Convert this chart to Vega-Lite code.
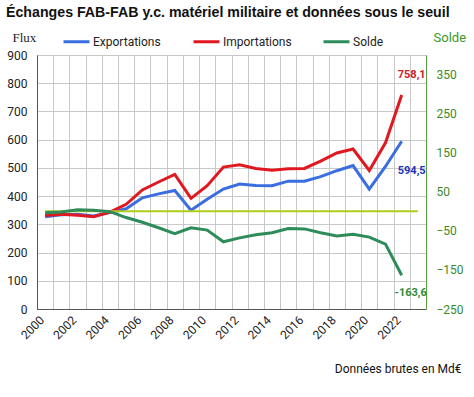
{
  "$schema": "https://vega.github.io/schema/vega-lite/v6.json",
  "width": 389,
  "height": 254,
  "autosize": {"type": "none"},
  "padding": {"left": 37, "top": 55, "right": 48, "bottom": 88},
  "background": "white",
  "title": {
    "text": "Échanges FAB-FAB y.c. matériel militaire et données sous le seuil",
    "anchor": "start",
    "frame": "group",
    "font": "Liberation Sans",
    "fontSize": 14.2,
    "fontWeight": "bold",
    "color": "#111111",
    "dx": -31,
    "offset": 7
  },
  "config": {
    "view": {"stroke": "#8a8a8a", "strokeWidth": 1},
    "axis": {
      "labelFont": "Roboto",
      "labelFontSize": 12,
      "labelColor": "#222222",
      "gridColor": "#c8c8c8",
      "gridWidth": 1,
      "domainColor": "#555555"
    },
    "legend": {
      "orient": "none",
      "legendX": 25,
      "legendY": -28,
      "direction": "horizontal",
      "padding": 0,
      "symbolType": "stroke",
      "symbolSize": 676,
      "symbolStrokeWidth": 3,
      "labelFont": "Roboto",
      "labelFontSize": 12,
      "labelColor": "#222222",
      "labelOffset": 2,
      "columnPadding": 25,
      "gridAlign": "all"
    }
  },
  "datasets": {
    "flux": [
      {"year": 2000, "series": "Exportations", "value": 327},
      {"year": 2001, "series": "Exportations", "value": 334},
      {"year": 2002, "series": "Exportations", "value": 336},
      {"year": 2003, "series": "Exportations", "value": 330},
      {"year": 2004, "series": "Exportations", "value": 342},
      {"year": 2005, "series": "Exportations", "value": 355},
      {"year": 2006, "series": "Exportations", "value": 394},
      {"year": 2007, "series": "Exportations", "value": 408},
      {"year": 2008, "series": "Exportations", "value": 420},
      {"year": 2009, "series": "Exportations", "value": 350},
      {"year": 2010, "series": "Exportations", "value": 389},
      {"year": 2011, "series": "Exportations", "value": 425},
      {"year": 2012, "series": "Exportations", "value": 443},
      {"year": 2013, "series": "Exportations", "value": 438},
      {"year": 2014, "series": "Exportations", "value": 437},
      {"year": 2015, "series": "Exportations", "value": 453},
      {"year": 2016, "series": "Exportations", "value": 453},
      {"year": 2017, "series": "Exportations", "value": 469},
      {"year": 2018, "series": "Exportations", "value": 490},
      {"year": 2019, "series": "Exportations", "value": 508},
      {"year": 2020, "series": "Exportations", "value": 425},
      {"year": 2021, "series": "Exportations", "value": 505},
      {"year": 2022, "series": "Exportations", "value": 594.5, "label": "594,5"},
      {"year": 2000, "series": "Importations", "value": 331},
      {"year": 2001, "series": "Importations", "value": 336},
      {"year": 2002, "series": "Importations", "value": 332},
      {"year": 2003, "series": "Importations", "value": 327},
      {"year": 2004, "series": "Importations", "value": 343},
      {"year": 2005, "series": "Importations", "value": 371},
      {"year": 2006, "series": "Importations", "value": 422},
      {"year": 2007, "series": "Importations", "value": 450},
      {"year": 2008, "series": "Importations", "value": 477},
      {"year": 2009, "series": "Importations", "value": 392},
      {"year": 2010, "series": "Importations", "value": 437},
      {"year": 2011, "series": "Importations", "value": 503},
      {"year": 2012, "series": "Importations", "value": 511},
      {"year": 2013, "series": "Importations", "value": 498},
      {"year": 2014, "series": "Importations", "value": 492},
      {"year": 2015, "series": "Importations", "value": 497},
      {"year": 2016, "series": "Importations", "value": 498},
      {"year": 2017, "series": "Importations", "value": 524},
      {"year": 2018, "series": "Importations", "value": 553},
      {"year": 2019, "series": "Importations", "value": 567},
      {"year": 2020, "series": "Importations", "value": 491},
      {"year": 2021, "series": "Importations", "value": 589},
      {"year": 2022, "series": "Importations", "value": 758.1, "label": "758,1"}
    ],
    "solde": [
      {"year": 2000, "series": "Solde", "value": -4},
      {"year": 2001, "series": "Solde", "value": -2},
      {"year": 2002, "series": "Solde", "value": 4},
      {"year": 2003, "series": "Solde", "value": 3},
      {"year": 2004, "series": "Solde", "value": -1},
      {"year": 2005, "series": "Solde", "value": -16},
      {"year": 2006, "series": "Solde", "value": -28},
      {"year": 2007, "series": "Solde", "value": -42},
      {"year": 2008, "series": "Solde", "value": -57},
      {"year": 2009, "series": "Solde", "value": -42},
      {"year": 2010, "series": "Solde", "value": -48},
      {"year": 2011, "series": "Solde", "value": -78},
      {"year": 2012, "series": "Solde", "value": -68},
      {"year": 2013, "series": "Solde", "value": -60},
      {"year": 2014, "series": "Solde", "value": -55},
      {"year": 2015, "series": "Solde", "value": -44},
      {"year": 2016, "series": "Solde", "value": -45},
      {"year": 2017, "series": "Solde", "value": -55},
      {"year": 2018, "series": "Solde", "value": -63},
      {"year": 2019, "series": "Solde", "value": -59},
      {"year": 2020, "series": "Solde", "value": -66},
      {"year": 2021, "series": "Solde", "value": -84},
      {"year": 2022, "series": "Solde", "value": -163.6, "label": "-163,6"}
    ],
    "zero": [
      {"year": 2000, "value": 0},
      {"year": 2023, "value": 0}
    ]
  },
  "encoding": {
    "x": {
      "field": "year",
      "type": "ordinal",
      "bandPosition": 0.5,
      "scale": {"type": "band", "paddingInner": 0, "paddingOuter": 0},
      "axis": {
        "title": "Données brutes en Md€",
        "titleFont": "Roboto",
        "titleFontSize": 12,
        "titleFontWeight": "normal",
        "titleColor": "#111111",
        "titleAlign": "right",
        "titleBaseline": "middle",
        "titleX": 424,
        "titleY": 59,
        "labelAngle": -45,
        "labelExpr": "toNumber(datum.value) % 2 == 0 ? datum.label : ''",
        "labelPadding": 5,
        "labelOffset": -7,
        "ticks": false,
        "tickBand": "extent",
        "grid": true
      }
    }
  },
  "layer": [
    {
      "data": {"name": "flux"},
      "encoding": {
        "y": {
          "field": "value",
          "type": "quantitative",
          "scale": {"domain": [0, 900]},
          "axis": {
            "title": "Flux",
            "titleAngle": 0,
            "titleX": -25,
            "titleY": -18,
            "titleAlign": "left",
            "titleBaseline": "middle",
            "titleFont": "Liberation Serif",
            "titleFontSize": 13,
            "titleFontWeight": "normal",
            "titleColor": "#222222",
            "values": [0, 100, 200, 300, 400, 500, 600, 700, 800, 900],
            "grid": true,
            "ticks": false,
            "labelPadding": 10
          }
        }
      },
      "layer": [
        {
          "mark": {"type": "line", "strokeWidth": 3},
          "encoding": {
            "color": {
              "field": "series",
              "type": "nominal",
              "scale": {"domain": ["Exportations", "Importations", "Solde"], "range": ["#3a6ee0", "#e01820", "#2e8b5a"]},
              "legend": {"title": null}
            }
          }
        },
        {
          "transform": [{"filter": "datum.series == 'Importations' && datum.year == 2022"}],
          "mark": {"type": "text", "font": "Roboto", "fontSize": 11, "fontWeight": "bold", "color": "#d0202a", "dx": 10, "dy": -20, "baseline": "middle", "align": "center"},
          "encoding": {"text": {"field": "label"}}
        },
        {
          "transform": [{"filter": "datum.series == 'Exportations' && datum.year == 2022"}],
          "mark": {"type": "text", "font": "Roboto", "fontSize": 11, "fontWeight": "bold", "color": "#2233bb", "dx": 10, "dy": 30, "baseline": "middle", "align": "center"},
          "encoding": {"text": {"field": "label"}}
        }
      ]
    },
    {
      "encoding": {
        "y": {
          "field": "value",
          "type": "quantitative",
          "scale": {"domain": [-250, 400]},
          "axis": {
            "orient": "right",
            "title": "Solde",
            "titleAngle": 0,
            "titleX": 7,
            "titleY": -18,
            "titleAlign": "left",
            "titleBaseline": "middle",
            "titleFont": "Roboto",
            "titleFontSize": 13,
            "titleFontWeight": "normal",
            "titleColor": "#3a9a2a",
            "values": [-250, -150, -50, 50, 150, 250, 350],
            "grid": false,
            "ticks": false,
            "labelPadding": 10,
            "labelColor": "#3a8a2a",
            "domainColor": "#5aa040"
          }
        }
      },
      "layer": [
        {
          "data": {"name": "zero"},
          "mark": {"type": "line", "strokeWidth": 2, "color": "#b0cc1a"}
        },
        {
          "data": {"name": "solde"},
          "mark": {"type": "line", "strokeWidth": 3},
          "encoding": {
            "color": {"field": "series", "type": "nominal"}
          }
        },
        {
          "data": {"name": "solde"},
          "transform": [{"filter": "datum.year == 2022"}],
          "mark": {"type": "text", "font": "Roboto", "fontSize": 11, "fontWeight": "bold", "color": "#2e8b3a", "dx": 9, "dy": 18, "baseline": "middle", "align": "center"},
          "encoding": {"text": {"field": "label"}}
        }
      ]
    }
  ],
  "resolve": {"scale": {"y": "independent"}}
}
